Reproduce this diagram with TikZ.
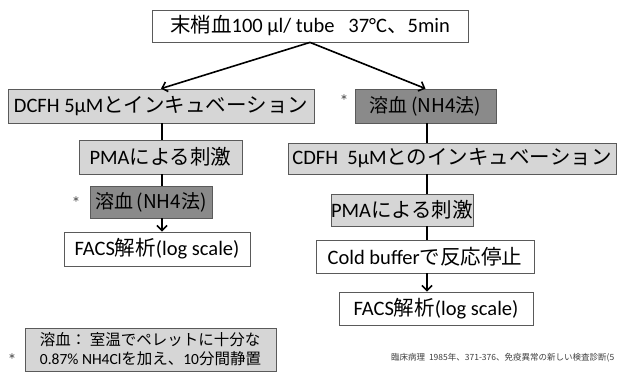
\documentclass[tikz,border=0pt]{standalone}
\usepackage{fontspec}
\setmainfont{Carlito}
\newfontfamily\jp{Noto Sans CJK JP}
\usetikzlibrary{arrows.meta}
\definecolor{lightbox}{HTML}{D6D6D6}
\definecolor{darkbox}{HTML}{8A8A8A}
\definecolor{edgegray}{HTML}{5A5A5A}
\tikzset{
  base/.style={draw=edgegray, line width=0.8pt, inner sep=0pt, align=center,
    font=\fontsize{20.5}{24}\selectfont, text=black},
  whitebox/.style={base, fill=white},
  lightbx/.style={base, fill=lightbox},
  darkbx/.style={base, fill=darkbox, font=\fontsize{19}{22}\selectfont\jp},
  conn/.style={line width=1.6pt, black},
  arr/.style={line width=1.6pt, black, -{Straight Barb[length=5pt,width=10pt,line width=1.6pt]}},
  astr/.style={text=black!70, font=\fontsize{18}{18}\selectfont, inner sep=0pt},
}
\begin{document}
\begin{tikzpicture}[x=1pt,y=-1pt]
\fill[white] (0,0) rectangle (622,374);
\useasboundingbox (0,0) rectangle (622,374);
\coordinate (colL) at (162,0);
\coordinate (colR) at (427,0);
% nodes
\node[whitebox, minimum width=316pt, minimum height=32pt] (top) at (310,26)
  {{\jp 末梢血}100 µl/ tube\ \ \ 37°C{\jp 、}5min};
\node[lightbx, minimum width=306pt, minimum height=34pt] (dcfh) at (161,106)
  {DCFH 5μM{\jp とインキュベーション}};
\node[darkbx, minimum width=141pt, minimum height=34pt] (lysR) at (425.5,106)
  {溶血\,(NH4法)};
\node[astr] (astR) at (344,101) {*};
\node[lightbx, minimum width=163pt, minimum height=34pt] (pmaL) at (160.5,157)
  {PMA{\jp による刺激}};
\node[darkbx, minimum width=122pt, minimum height=32pt] (lysL) at (151,202)
  {溶血\,(NH4法)};
\node[astr] (astL) at (76,203) {*};
\node[whitebox, minimum width=186pt, minimum height=34pt] (facsL) at (157,249)
  {FACS{\jp 解析}(log scale)};
\node[lightbx, minimum width=328pt, minimum height=31pt] (cdfh) at (452,158.5)
  {CDFH\ \ 5μM{\jp とのインキュベーション}};
\node[lightbx, minimum width=112pt, minimum height=32pt] (pmaR) at (402,210)
  {PMA{\jp による刺激}};
\node[whitebox, minimum width=218pt, minimum height=33pt] (cold) at (425,256.5)
  {Cold buffer{\jp で反応停止}};
\node[whitebox, minimum width=194pt, minimum height=33pt] (facsR) at (436,308.5)
  {FACS{\jp 解析}(log scale)};
\node[base, fill=lightbox, minimum width=251pt, minimum height=43pt, align=left,
  font=\fontsize{15.5}{19}\selectfont] (note) at (150.5,349.5)
  {{\jp 溶血：\ 室温でペレットに十分な}\\0.87\% NH4Cl{\jp を加え、}10{\jp 分間静置}};
\node[astr] (astN) at (12,360) {*};
\node[anchor=west, inner sep=0pt, text=black!75, font=\fontsize{8.5}{10}\selectfont\jp] (cite) at (391,358)
  {臨床病理\ \ 1985年、371-376、免疫異常の新しい検査診断(5};
% connectors
\draw[arr] (top.south) -- (dcfh.north);
\draw[arr] (top.south) -- (lysR.north);
\draw[conn] (dcfh.south -| colL) -- (pmaL.north -| colL);
\draw[conn] (pmaL.south -| colL) -- (lysL.north -| colL);
\draw[arr] (lysL.south -| colL) -- (facsL.north -| colL);
\draw[conn] (lysR.south -| colR) -- (cdfh.north -| colR);
\draw[conn] (cdfh.south -| colR) -- (pmaR.north -| colR);
\draw[conn] (pmaR.south -| colR) -- (cold.north -| colR);
\draw[arr] (cold.south -| colR) -- (facsR.north -| colR);
\end{tikzpicture}
\end{document}
